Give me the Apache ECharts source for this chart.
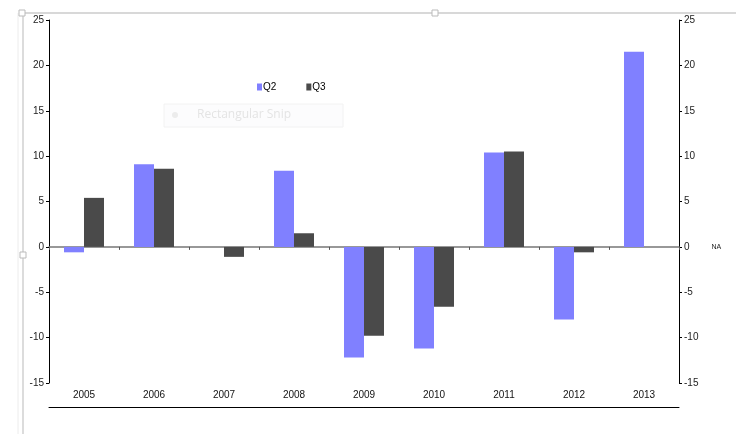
<!DOCTYPE html>
<html>
<head>
<meta charset="utf-8">
<script src="https://cdn.jsdelivr.net/npm/echarts@6/dist/echarts.min.js"></script>
<style>
html,body{margin:0;padding:0;background:#fff;}
#chart{width:736px;height:434px;}
</style>
</head>
<body>
<div id="chart"></div>
<script>
var categories = ['2005','2006','2007','2008','2009','2010','2011','2012','2013'];
var q2 = [-0.6, 9.1, null, 8.4, -12.2, -11.2, 10.4, -8.0, 21.5];
var q3 = [5.4, 8.6, -1.1, 1.5, -9.8, -6.6, 10.5, -0.6, null];
var seriesNames = ['Q2', 'Q3'];

var chart = echarts.init(document.getElementById('chart'));
var font = 'Liberation Sans, Arial, sans-serif';
var yBase = {
  type: 'value', min: -15, max: 25, interval: 5,
  axisLine: {show: true, lineStyle: {color: '#000', width: 1}},
  axisTick: {show: true, length: 3, lineStyle: {color: '#000'}},
  splitLine: {show: false},
  axisLabel: {fontSize: 10, color: '#222', fontFamily: font, margin: 5}
};
var option = {
  animation: false,
  textStyle: {fontFamily: font},
  grid: {left: 49, right: 57, top: 20, bottom: 51, containLabel: false},
  legend: {
    data: seriesNames, left: 252, top: 77, icon: 'rect',
    itemWidth: 5, itemHeight: 7, itemGap: 30,
    textStyle: {fontSize: 10, color: '#000', fontFamily: font, padding: [0, 0, 0, -4]}
  },
  xAxis: [
    {
      type: 'category', data: categories, position: 'bottom',
      axisLine: {show: true, onZero: true, lineStyle: {color: '#777', width: 1.5}},
      axisTick: {show: true, length: 3, lineStyle: {color: '#555'}},
      axisLabel: {show: false}
    },
    {
      type: 'category', data: categories, position: 'bottom',
      axisLine: {show: false, onZero: false}, axisTick: {show: false},
      axisLabel: {show: true, fontSize: 10, color: '#111', fontFamily: font, margin: 7}
    },
    {
      type: 'category', data: categories, position: 'bottom', offset: 24,
      axisLine: {show: true, onZero: false, lineStyle: {color: '#000', width: 1}},
      axisTick: {show: false}, axisLabel: {show: false}
    }
  ],
  yAxis: [
    Object.assign({}, yBase, {position: 'left'}),
    Object.assign({}, yBase, {
      position: 'right',
      axisLabel: {
        fontSize: 10, color: '#222', fontFamily: font, margin: 5,
        formatter: function (v) { return v === 0 ? '0{na|NA}' : String(v); },
        rich: {na: {fontSize: 7, color: '#222', padding: [0, 0, 0, 22], fontFamily: font}}
      }
    })
  ],
  series: [
    {name: seriesNames[0], type: 'bar', data: q2, xAxisIndex: 0, yAxisIndex: 0,
     barWidth: 20, barGap: '0%', itemStyle: {color: '#8080FF'}},
    {name: seriesNames[1], type: 'bar', data: q3, xAxisIndex: 0, yAxisIndex: 0,
     barWidth: 20, barGap: '0%', itemStyle: {color: '#4A4A4A'}}
  ],
  graphic: [
    {type: 'line', shape: {x1: 22, y1: 13, x2: 736, y2: 13}, style: {stroke: '#d8d8d8', lineWidth: 2}, silent: true},
    {type: 'line', shape: {x1: 23, y1: 13, x2: 23, y2: 434}, style: {stroke: '#d0d0d0', lineWidth: 1.5}, silent: true},
    {type: 'line', shape: {x1: 18, y1: 13, x2: 18, y2: 434}, style: {stroke: '#ececec', lineWidth: 1}, silent: true},
    {type: 'rect', shape: {x: 19, y: 10, width: 6, height: 6}, style: {fill: '#fff', stroke: '#bbb', lineWidth: 1}, silent: true},
    {type: 'rect', shape: {x: 432, y: 10, width: 6, height: 6}, style: {fill: '#fff', stroke: '#bbb', lineWidth: 1}, silent: true},
    {type: 'rect', shape: {x: 20, y: 252, width: 6, height: 6}, style: {fill: '#fff', stroke: '#bbb', lineWidth: 1}, silent: true},
    {type: 'rect', shape: {x: 164, y: 104, width: 179, height: 23}, style: {fill: 'rgba(250,250,252,0.6)', stroke: '#f2f2f2', lineWidth: 1}, silent: true},
    {type: 'circle', shape: {cx: 175, cy: 115, r: 3}, style: {fill: '#ececec'}, silent: true},
    {type: 'text', left: 197, top: 109, style: {text: 'Rectangular Snip', fill: '#e4e4e4', font: '12px "Open Sans", sans-serif'}, silent: true}
  ]
};
chart.setOption(option);
</script>
</body>
</html>
